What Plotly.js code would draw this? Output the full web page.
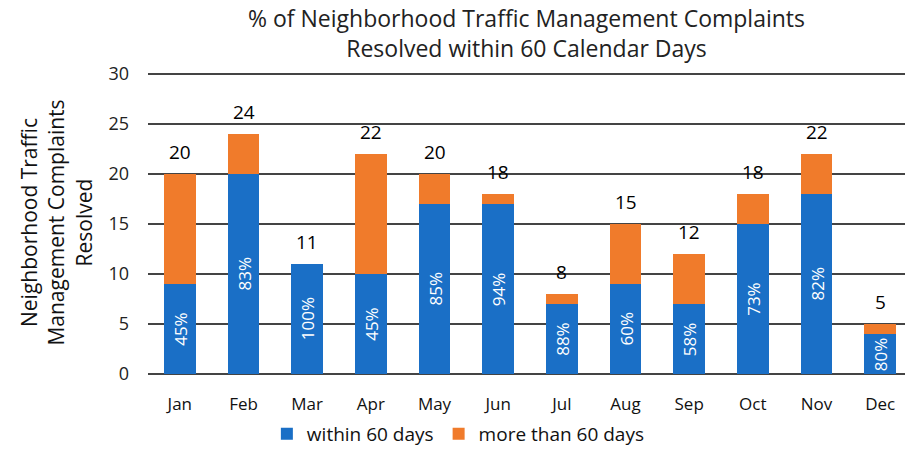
<!DOCTYPE html>
<html><head><meta charset="utf-8">
<script src="https://cdn.plot.ly/plotly-3.0.1.min.js"></script>
<style>html,body{margin:0;padding:0;background:#fff;}#chart{width:905px;height:449px;}</style>
</head><body><div id="chart"></div>
<script>
const months = ["Jan","Feb","Mar","Apr","May","Jun","Jul","Aug","Sep","Oct","Nov","Dec"];
const within60 = [9,20,11,10,17,17,7,9,7,15,18,4];
const over60 = [11,4,0,12,3,1,1,6,5,3,4,1];
const totals = [20,24,11,22,20,18,8,15,12,18,22,5];
const pctLabels = ["45%","83%","100%","45%","85%","94%","88%","60%","58%","73%","82%","80%"];
const yTicks = [0,5,10,15,20,25,30];

const FONT = "'Open Sans', sans-serif";
const blue = "#1a6fc6", orange = "#f07b2b";

const traces = [
  {type:"bar", name:"within 60 days", x:months, y:within60, marker:{color:blue}, width:0.5,
   hoverinfo:"skip", cliponaxis:false},
  {type:"bar", name:"more than 60 days", x:months, y:over60, marker:{color:orange}, width:0.5,
   cliponaxis:false, hoverinfo:"skip"}
];

const pctAnn = months.map((m,i)=>({
  x:m, y:within60[i]/2, xref:"x", yref:"y", text:pctLabels[i], showarrow:false,
  textangle:-90, font:{family:FONT, size:17, color:"#fff"}
}));
const totAnn = months.map((m,i)=>({
  x:m, y:totals[i], xref:"x", yref:"y", text:String(totals[i]), showarrow:false,
  yanchor:"bottom", yshift:7, font:{family:FONT, size:19, color:"#000"}
}));
const titleAnn = {
  xref:"paper", yref:"paper", x:0.5, y:1, xanchor:"center", yanchor:"bottom", yshift:5,
  text:"% of Neighborhood Traffic Management Complaints<br>Resolved within 60 Calendar Days",
  showarrow:false, font:{family:FONT, size:23, color:"#222"}
};

const layout = {
  width:905, height:449, barmode:"stack",
  paper_bgcolor:"#fff", plot_bgcolor:"#fff",
  margin:{l:148, r:0, t:71, b:75, autoexpand:false},
  font:{family:FONT, color:"#000"},
  xaxis:{range:[-0.5,11.39], tickfont:{family:FONT, size:17, color:"#111"}, showline:false, ticks:"",
    ticklabelstandoff:18, fixedrange:true},
  yaxis:{range:[0,30.3], tickvals:yTicks, tickfont:{family:FONT, size:18, color:"#222"}, showgrid:true,
    gridcolor:"#444", gridwidth:1.3, ticks:"", ticklabelstandoff:18, zeroline:true, zerolinecolor:"#444",
    zerolinewidth:1.3,
    title:{text:"Neighborhood Traffic<br>Management Complaints<br>Resolved", font:{family:FONT, size:21, color:"#111"}, standoff:10}},
  showlegend:true,
  legend:{orientation:"h", x:0.41, xanchor:"center", y:-0.135, yanchor:"top", font:{family:FONT, size:19, color:"#111"},
    traceorder:"normal"},
  annotations:[titleAnn].concat(pctAnn, totAnn)
};
Plotly.newPlot("chart", traces, layout, {displayModeBar:false, staticPlot:true});
</script></body></html>
